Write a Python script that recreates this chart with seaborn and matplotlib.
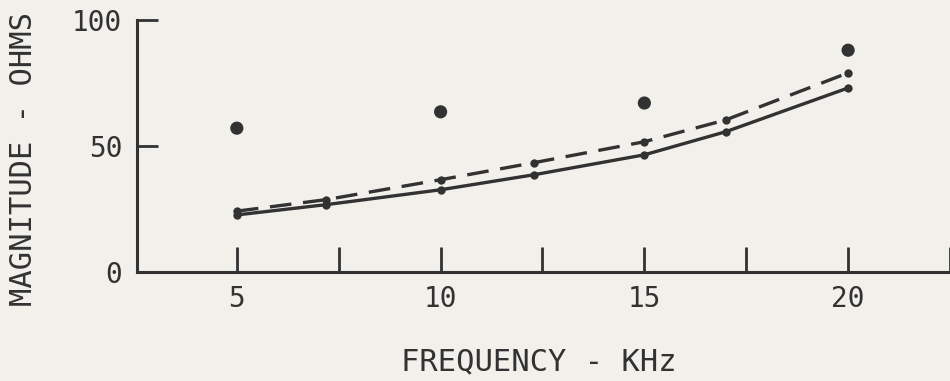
import matplotlib
matplotlib.use("Agg")
import matplotlib.pyplot as plt
import seaborn as sns
import pandas as pd
from matplotlib.ticker import FixedLocator

# Measured impedance magnitudes (ohms) versus frequency (kHz)
freq_points = [5, 10, 15, 20]
measured = [57, 63.5, 67, 88]

freq_curve = [5, 7.2, 10, 12.3, 15, 17.0, 20]
computed_dashed = [24, 28.6, 36.5, 43.3, 51.6, 60.3, 79]
computed_solid = [22.5, 26.6, 32.5, 38.5, 46.4, 55.6, 73]

major_ticks = [5, 10, 15, 20]
minor_ticks = [7.5, 12.5, 17.5, 22.5]
y_ticks = [0, 50, 100]

ink = "#333232"
paper = "#f2f0ea"

sns.set_theme(style="white")
plt.rcParams["font.family"] = ["DejaVu Sans Mono", "DejaVu Sans"]

fig = plt.figure(figsize=(9.5, 3.81), dpi=100)
fig.patch.set_facecolor(paper)
ax = fig.add_axes([137 / 950, 0.2874, 1 - 137 / 950, 0.66])
ax.set_facecolor(paper)

df_pts = pd.DataFrame({"f": freq_points, "z": measured})
df_dash = pd.DataFrame({"f": freq_curve, "z": computed_dashed})
df_solid = pd.DataFrame({"f": freq_curve, "z": computed_solid})

sns.lineplot(data=df_solid, x="f", y="z", ax=ax, color=ink, lw=2.4,
             marker="o", markersize=6, markeredgewidth=0, sort=True)
sns.lineplot(data=df_dash, x="f", y="z", ax=ax, color=ink, lw=2.4,
             marker="o", markersize=6, markeredgewidth=0, sort=True,
             dashes=False)
ax.lines[-1].set_linestyle((0, (6.5, 3.5)))
sns.scatterplot(data=df_pts, x="f", y="z", ax=ax, color=ink, s=90,
                edgecolor="none")

ax.set_xlim(2.55, 22.5)
ax.set_ylim(0, 100)

for side in ("top", "right"):
    ax.spines[side].set_visible(False)
for side in ("left", "bottom"):
    ax.spines[side].set_color(ink)
    ax.spines[side].set_linewidth(2.2)

ax.xaxis.set_major_locator(FixedLocator(major_ticks))
ax.xaxis.set_minor_locator(FixedLocator(minor_ticks))
ax.set_xticklabels([str(t) for t in major_ticks])
ax.yaxis.set_major_locator(FixedLocator(y_ticks))
ax.set_yticklabels([str(t) for t in y_ticks])

ax.tick_params(axis="x", which="both", direction="in", length=18, width=2,
               color=ink, bottom=True, labelsize=20, labelcolor=ink, pad=10)
ax.tick_params(axis="y", which="major", direction="in", length=15, width=2,
               color=ink, left=True, labelsize=20, labelcolor=ink, pad=10.5)

ax.set_xlabel("FREQUENCY - KHz", fontsize=22, color=ink)
ax.set_ylabel("MAGNITUDE - OHMS", fontsize=22, color=ink)
ax.xaxis.set_label_coords(0.4945, -0.36)
ax.xaxis.label.set_verticalalignment("center")
ax.yaxis.set_label_coords(-0.140, 0.447)
ax.yaxis.label.set_verticalalignment("center")
ax.grid(False)

fig.savefig("out.png", dpi=100, facecolor=paper)
